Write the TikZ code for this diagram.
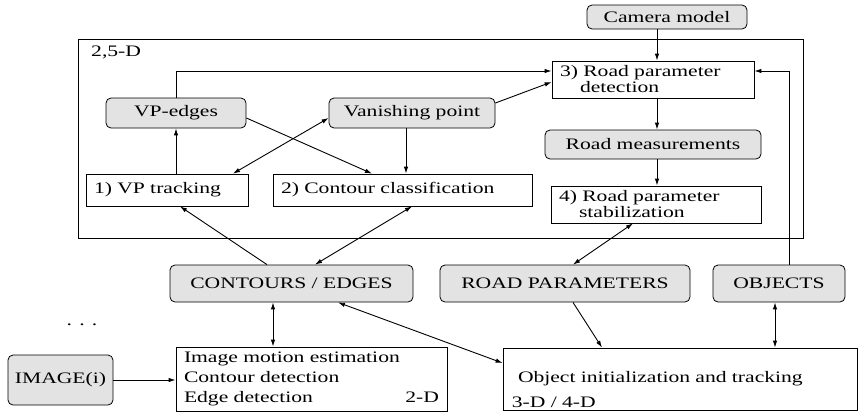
\documentclass[tikz,border=0pt]{standalone}
\usepackage{fontspec}
\setmainfont{Liberation Serif}[FakeStretch=1.35]
\usetikzlibrary{arrows.meta,positioning,calc}

\begin{document}
\begin{tikzpicture}[x=1pt, y=-1pt, every node/.style={font=\fontsize{16}{16}\selectfont, inner sep=0pt}, shaded/.style={draw, line width=0.8pt, rounded corners=5pt, fill=gray!22, align=center}, plain/.style={draw, line width=0.8pt, align=left, inner xsep=8pt}, arrow/.style={-{Latex[length=7pt,width=4.5pt]}, line width=0.9pt}, twoway/.style={{Latex[length=7pt,width=4.5pt]}-{Latex[length=7pt,width=4.5pt]}, line width=0.9pt}]
\useasboundingbox (0,0) rectangle (860,413);
\node[draw, line width=0.8pt, minimum width=725, minimum height=199] (level) at (440.5,138.5) {};
\node[anchor=west] (levelname) at (91,52) {2,5-D};
\node[shaded, minimum width=160, minimum height=24] (camera) at (667,17) {Camera model};
\node[plain, text width=186, minimum height=37] (detect) at (653,79.5) {3) Road parameter\\\hspace*{1.25em}detection};
\node[shaded, minimum width=140, minimum height=30] (vpedges) at (176,113) {VP-edges};
\node[shaded, minimum width=166, minimum height=30] (vanish) at (412,113) {Vanishing point};
\node[plain, text width=146, minimum height=32] (vptrack) at (167,190) {1) VP tracking};
\node[plain, text width=243, minimum height=32] (classify) at (402.5,190) {2) Contour classification};
\node[shaded, minimum width=216, minimum height=29] (measure) at (653,144.5) {Road measurements};
\node[plain, text width=194, minimum height=37] (stabil) at (656,204.5) {4) Road parameter\\\hspace*{1.25em}stabilization};
\node[shaded, minimum width=243, minimum height=37] (contours) at (291.5,283.5) {CONTOURS / EDGES};
\node[shaded, minimum width=250, minimum height=37] (roadpar) at (565,283.5) {ROAD PARAMETERS};
\node[shaded, minimum width=132, minimum height=37] (objects) at (779,283.5) {OBJECTS};
\node[plain, text width=255, minimum height=64, font=\fontsize{16}{20}\selectfont] (lowlevel) at (311.5,379) {Image motion estimation\\Contour detection\\Edge detection\hfill 2-D};
\node[plain, inner xsep=15pt, text width=324, minimum height=62, label={[anchor=south west, xshift=9pt, yshift=3pt]south west:3-D / 4-D}] (objtrack) at (680,379) {Object initialization and tracking};
\node[shaded, minimum width=105, minimum height=50] (image) at (60.5,380) {IMAGE(i)};
\node (dots) at (82,325) {. . .};
\draw[arrow] ([xshift=-10pt]camera.south) -- ([xshift=4pt]detect.north);
\draw[arrow] ([xshift=4pt]detect.south) -- ([xshift=4pt]measure.north);
\draw[arrow] ([xshift=4pt]measure.south) -- ([xshift=1pt]stabil.north);
\draw[arrow] (vpedges.north) |- ([yshift=8.5pt]detect.west);
\draw[arrow] ([yshift=10pt]vanish.east) -- ([yshift=-2.5pt]detect.west);
\draw[arrow] ([xshift=9pt]vptrack.north) -- (vpedges.south);
\draw[twoway] ([yshift=-5pt]vanish.west) -- ([xshift=66pt]vptrack.north);
\draw[arrow] ([yshift=-5pt]vpedges.east) -- ([xshift=-30.5pt]classify.north);
\draw[arrow] ([xshift=-6pt]vanish.south) -- ([xshift=3.5pt]classify.north);
\draw[arrow] ([xshift=10pt]objects.north) |- ([yshift=8.5pt]detect.east);
\draw[arrow] ([xshift=-24.5pt]contours.north) -- ([xshift=13pt]vptrack.south);
\draw[twoway] ([xshift=23.5pt]contours.north) -- ([xshift=9.5pt]classify.south);
\draw[twoway] ([xshift=8pt]roadpar.north) -- ([xshift=-23pt]stabil.south);
\draw[twoway] ([xshift=-18.5pt]contours.south) -- ([xshift=-38.5pt]lowlevel.north);
\draw[twoway] ([yshift=16pt]objtrack.west) -- ([xshift=46.5pt]contours.south);
\draw[arrow] ([xshift=8pt]roadpar.south) -- ([xshift=-78pt]objtrack.north);
\draw[twoway] ([xshift=-4pt]objects.south) -- ([xshift=95pt]objtrack.north);
\draw[arrow] (image.east) -- (lowlevel.west |- image.east);
\end{tikzpicture}
\end{document}
